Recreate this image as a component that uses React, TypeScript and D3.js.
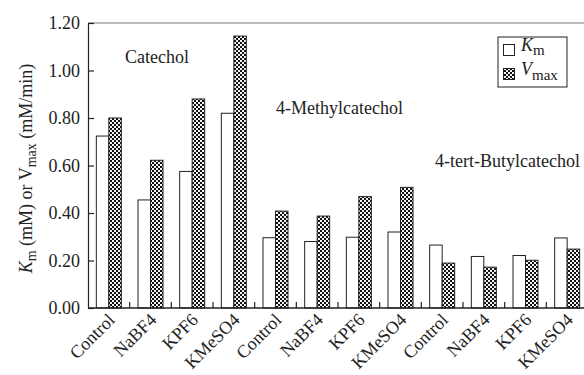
import React, { useEffect, useRef } from "react";
import * as d3 from "d3";

const salts = ["Control", "NaBF4", "KPF6", "KMeSO4"];
const substrates = ["Catechol", "4-Methylcatechol", "4-tert-Butylcatechol"];
const kmValues = [0.724, 0.455, 0.575, 0.82, 0.296, 0.28, 0.298, 0.32, 0.265, 0.217, 0.221, 0.295];
const vmaxValues = [0.8, 0.622, 0.88, 1.145, 0.408, 0.387, 0.469, 0.508, 0.189, 0.172, 0.201, 0.248];
const yTicks = [0, 0.2, 0.4, 0.6, 0.8, 1.0, 1.2];

const W = 584;
const H = 375;
const FONT = "'Liberation Serif', 'Times New Roman', serif";

export default function App() {
  const ref = useRef<SVGSVGElement>(null);

  useEffect(() => {
    document.body.style.margin = "0";
    const svg = d3.select(ref.current);
    svg.selectAll("*").remove();

    const margin = { top: 23, left: 88, bottom: 308 };
    const cats = d3.range(12);
    const x = d3.scaleBand<number>().domain(cats).range([margin.left, 588]).padding(0);
    const y = d3.scaleLinear().domain([0, 1.2]).range([margin.bottom, margin.top]);
    const bw = x.bandwidth() * 0.3;

    // checker pattern for Vmax
    const defs = svg.append("defs");
    const pat = defs
      .append("pattern")
      .attr("id", "checker")
      .attr("patternUnits", "userSpaceOnUse")
      .attr("width", 4)
      .attr("height", 4);
    pat.append("rect").attr("width", 4).attr("height", 4).attr("fill", "#111");
    pat.append("rect").attr("x", 0).attr("y", 0).attr("width", 2).attr("height", 2).attr("fill", "#f4f4f4");
    pat.append("rect").attr("x", 2).attr("y", 2).attr("width", 2).attr("height", 2).attr("fill", "#f4f4f4");

    // top frame line
    svg
      .append("line")
      .attr("x1", margin.left)
      .attr("x2", W)
      .attr("y1", y(1.2))
      .attr("y2", y(1.2))
      .attr("stroke", "#777")
      .attr("stroke-width", 1);

    // bars
    const g = svg.append("g");
    g.selectAll(".km")
      .data(kmValues)
      .join("rect")
      .attr("class", "km")
      .attr("x", (d, i) => x(i)! + x.bandwidth() / 2 - bw)
      .attr("y", (d) => y(d))
      .attr("width", bw)
      .attr("height", (d) => y(0) - y(d))
      .attr("fill", "#fff")
      .attr("stroke", "#222")
      .attr("stroke-width", 1);

    g.selectAll(".vmax")
      .data(vmaxValues)
      .join("rect")
      .attr("class", "vmax")
      .attr("x", (d, i) => x(i)! + x.bandwidth() / 2)
      .attr("y", (d) => y(d))
      .attr("width", bw)
      .attr("height", (d) => y(0) - y(d))
      .attr("fill", "url(#checker)")
      .attr("stroke", "#222")
      .attr("stroke-width", 1);

    // y axis
    const yAxis = svg
      .append("g")
      .attr("transform", `translate(${margin.left},0)`)
      .call(
        d3
          .axisLeft(y)
          .tickValues(yTicks)
          .tickSizeInner(-6)
          .tickSizeOuter(0)
          .tickPadding(8)
          .tickFormat(d3.format(".2f"))
      );
    yAxis.select(".domain").attr("stroke", "#222").attr("stroke-width", 1.2);
    yAxis.selectAll(".tick line").attr("stroke", "#222").attr("stroke-width", 1.2);
    yAxis.selectAll("text").attr("font-family", FONT).attr("font-size", 18).attr("fill", "#222");

    // x axis line + inward ticks at category boundaries
    svg
      .append("line")
      .attr("x1", margin.left)
      .attr("x2", W)
      .attr("y1", y(0))
      .attr("y2", y(0))
      .attr("stroke", "#222")
      .attr("stroke-width", 1.5);
    svg
      .selectAll(".xtick")
      .data(cats.slice(1))
      .join("line")
      .attr("class", "xtick")
      .attr("x1", (d) => x(d)!)
      .attr("x2", (d) => x(d)!)
      .attr("y1", y(0))
      .attr("y2", y(0) - 6)
      .attr("stroke", "#222")
      .attr("stroke-width", 1.2);

    // x tick labels
    svg
      .selectAll(".xlabel")
      .data(cats)
      .join("text")
      .attr("class", "xlabel")
      .attr("transform", (d) => `translate(${x(d)! + x.bandwidth() / 2 + 7},${y(0) + 13}) rotate(-45)`)
      .attr("text-anchor", "end")
      .attr("font-family", FONT)
      .attr("font-size", 18)
      .attr("fill", "#222")
      .text((d) => salts[d % 4]);

    // substrate labels
    const subPos = [
      [125, 63],
      [276, 114],
      [435, 167],
    ];
    svg
      .selectAll(".sub")
      .data(substrates)
      .join("text")
      .attr("class", "sub")
      .attr("x", (d, i) => subPos[i][0])
      .attr("y", (d, i) => subPos[i][1])
      .attr("font-family", FONT)
      .attr("font-size", 18)
      .attr("fill", "#222")
      .text((d) => d);

    // y axis title
    const yt = svg
      .append("text")
      .attr("transform", `translate(32,${(y(0) + y(1.2)) / 2 + 3}) rotate(-90)`)
      .attr("text-anchor", "middle")
      .attr("font-family", FONT)
      .attr("font-size", 18)
      .attr("fill", "#222");
    yt.append("tspan").attr("font-style", "italic").text("K");
    yt.append("tspan").attr("font-size", 14).attr("dy", 4).text("m");
    yt.append("tspan").attr("dy", -4).text(" (mM) or V");
    yt.append("tspan").attr("font-size", 14).attr("dy", 4).text("max");
    yt.append("tspan").attr("dy", -4).text(" (mM/min)");

    // legend
    const lg = svg.append("g");
    lg.append("rect")
      .attr("x", 498)
      .attr("y", 37)
      .attr("width", 69)
      .attr("height", 50)
      .attr("fill", "#fff")
      .attr("stroke", "#222")
      .attr("stroke-width", 1);
    lg.append("rect")
      .attr("x", 503.5)
      .attr("y", 44.5)
      .attr("width", 11)
      .attr("height", 11)
      .attr("fill", "#fff")
      .attr("stroke", "#222");
    lg.append("rect")
      .attr("x", 503.5)
      .attr("y", 68.5)
      .attr("width", 11)
      .attr("height", 11)
      .attr("fill", "url(#checker)")
      .attr("stroke", "#222");
    const t1 = lg.append("text").attr("x", 521).attr("y", 51).attr("font-family", FONT).attr("font-size", 18).attr("fill", "#222");
    t1.append("tspan").attr("font-style", "italic").text("K");
    t1.append("tspan").attr("font-size", 15).attr("dy", 4).text("m");
    const t2 = lg.append("text").attr("x", 521).attr("y", 75).attr("font-family", FONT).attr("font-size", 18).attr("fill", "#222");
    t2.append("tspan").attr("font-style", "italic").text("V");
    t2.append("tspan").attr("font-size", 15).attr("dy", 5).text("max");
  }, []);

  return <svg ref={ref} width={W} height={H} style={{ display: "block", background: "#fff" }} />;
}
